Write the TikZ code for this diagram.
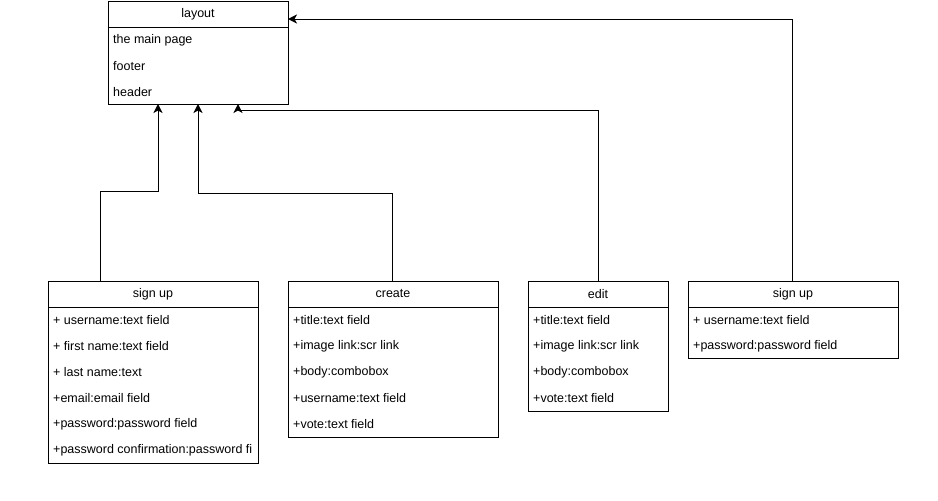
\documentclass[tikz,border=0pt]{standalone}
\usepackage{fontspec}
\setmainfont{Liberation Sans}
\usetikzlibrary{arrows.meta}

% A class box: name, left x, top y, width, height, title, member rows
\newcommand\classbox[7]{%
  \node[classframe, minimum width=#4pt, minimum height=#5pt] (#1) at (#2,#3) {};
  \draw[frameline] ([yshift=-26pt]#1.north west) -- ([yshift=-26pt]#1.north east);
  \node[classtitle] (#1-title) at ([yshift=-13pt]#1.north) {#6};
  \foreach \row [count=\i] in {#7} {
    \node[member] (#1-r\i) at ([xshift=5pt, yshift={-13pt-26pt*\i}]#1.north west) {\row};
  }%
}

\begin{document}
\begin{tikzpicture}[x=1pt, y=-1pt,
  frameline/.style={draw=black, line width=1pt},
  classframe/.style={frameline, fill=white, rectangle, anchor=north west, inner sep=0pt, outer sep=0pt},
  classtitle/.style={font=\fontsize{12.5}{14}\selectfont, inner sep=0pt, anchor=center},
  member/.style={font=\fontsize{12.5}{14}\selectfont, inner sep=0pt, anchor=west},
  conn/.style={draw=black, line width=1pt, -{Stealth[length=9pt, width=9pt, inset=2.5pt, line width=0.5pt, fill=black]}}
]
\useasboundingbox (0,0) rectangle (938,501);

\classbox{layout}{108}{1}{180}{103}{layout}{the main page, footer, header}
\classbox{signupA}{48}{281}{210}{182}{sign up}{+ username:text field, + first name:text field, + last name:text, +email:email field, +password:password field, +password confirmation:password fi}
\classbox{create}{288}{281}{210}{156}{create}{+title:text field, +image link:scr link, +body:combobox, +username:text field, +vote:text field}
\classbox{edit}{528}{281}{140}{130}{edit}{+title:text field, +image link:scr link, +body:combobox, +vote:text field}
\classbox{signupB}{688}{281}{210}{77}{sign up}{+ username:text field, +password:password field}

% inheritance connectors to the shared layout
\draw[conn] ([xshift=-53pt]signupA.north) -- ++(0,-90) -| ([xshift=-40pt]layout.south);
\draw[conn] ([xshift=-1pt]create.north) -- ++(0,-88) -| (layout.south);
\draw[conn] (edit.north) -- ++(0,-171) -| ([xshift=40pt]layout.south);
\draw[conn] ([xshift=-1pt]signupB.north) |- ([yshift=33.5pt]layout.east);
\end{tikzpicture}
\end{document}
